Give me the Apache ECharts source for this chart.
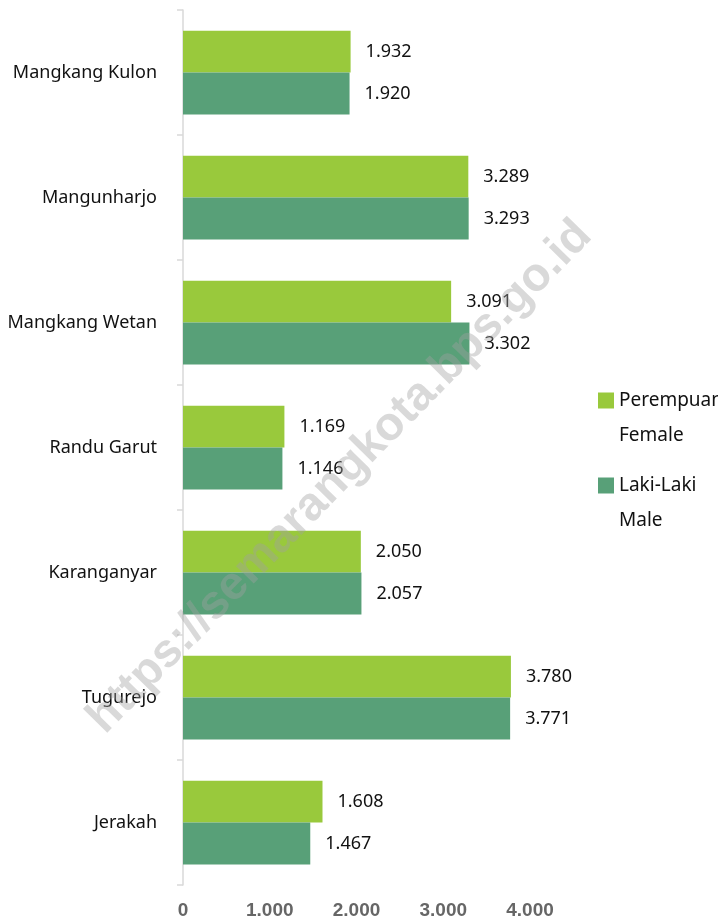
<!DOCTYPE html>
<html>
<head>
<meta charset="utf-8">
<script src="https://cdn.jsdelivr.net/npm/echarts@6/dist/echarts.min.js"></script>
<style>
  html, body { margin: 0; padding: 0; background: #fff; }
  #chart { width: 718px; height: 924px; }
</style>
</head>
<body>
<div id="chart"></div>
<script>
const villages = ["Mangkang Kulon", "Mangunharjo", "Mangkang Wetan", "Randu Garut", "Karanganyar", "Tugurejo", "Jerakah"];
const female = [1932, 3289, 3091, 1169, 2050, 3780, 1608];
const male = [1920, 3293, 3302, 1146, 2057, 3771, 1467];
const seriesNames = ["Perempuan\nFemale", "Laki-Laki\nMale"];
const xTicks = [0, 1000, 2000, 3000, 4000];

// angka pakai titik sebagai pemisah ribuan
function dotted(v) {
  return String(v).replace(/\B(?=(\d{3})+(?!\d))/g, ".");
}

const labelStyle = {
  show: true,
  position: "right",
  distance: 15,
  color: "#111",
  fontSize: 18,
  fontFamily: "Noto Sans",
  formatter: (p) => dotted(p.value),
};

const chart = echarts.init(document.getElementById("chart"));
chart.setOption({
  animation: false,
  grid: { left: 183, top: 10, bottom: 39, width: 347, containLabel: false },
  xAxis: {
    type: "value",
    min: 0,
    max: xTicks[xTicks.length - 1],
    interval: 1000,
    axisLine: { show: false },
    axisTick: { show: false },
    splitLine: { show: false },
    axisLabel: {
      margin: 16,
      color: "#666",
      fontSize: 19,
      fontWeight: "bold",
      fontFamily: "Liberation Sans",
      formatter: (v) => dotted(v),
    },
  },
  yAxis: {
    type: "category",
    inverse: true,
    data: villages,
    axisLine: { show: true, lineStyle: { color: "#d9d9d9", width: 1.5 } },
    axisTick: { show: true, length: 6, lineStyle: { color: "#d9d9d9", width: 1.5 } },
    axisLabel: { margin: 26, color: "#111", fontSize: 18, fontFamily: "Noto Sans" },
  },
  legend: {
    orient: "vertical",
    left: 593,
    top: 343,
    icon: "rect",
    itemWidth: 16,
    itemHeight: 16,
    itemGap: -20,
    // blank first line so the icon sits beside the first line of the name
    formatter: (name) => " \n" + name,
    textStyle: { color: "#111", fontSize: 19, fontFamily: "Noto Sans", lineHeight: 35 },
    data: seriesNames,
  },
  series: [
    {
      name: seriesNames[0],
      type: "bar",
      data: female,
      itemStyle: { color: "#99c93c" },
      barGap: "0%",
      barCategoryGap: "33%",
      label: labelStyle,
    },
    {
      name: seriesNames[1],
      type: "bar",
      data: male,
      itemStyle: { color: "#58a078" },
      barGap: "0%",
      barCategoryGap: "33%",
      label: labelStyle,
    },
  ],
  graphic: [
    {
      type: "text",
      x: 340,
      y: 477,
      rotation: Math.PI * 0.253,
      z: 100,
      silent: true,
      style: {
        text: "https://semarangkota.bps.go.id",
        align: "center",
        verticalAlign: "middle",
        font: "bold 47px 'Liberation Sans'",
        fill: "rgba(160,160,160,0.4)",
      },
    },
  ],
});
</script>
</body>
</html>
